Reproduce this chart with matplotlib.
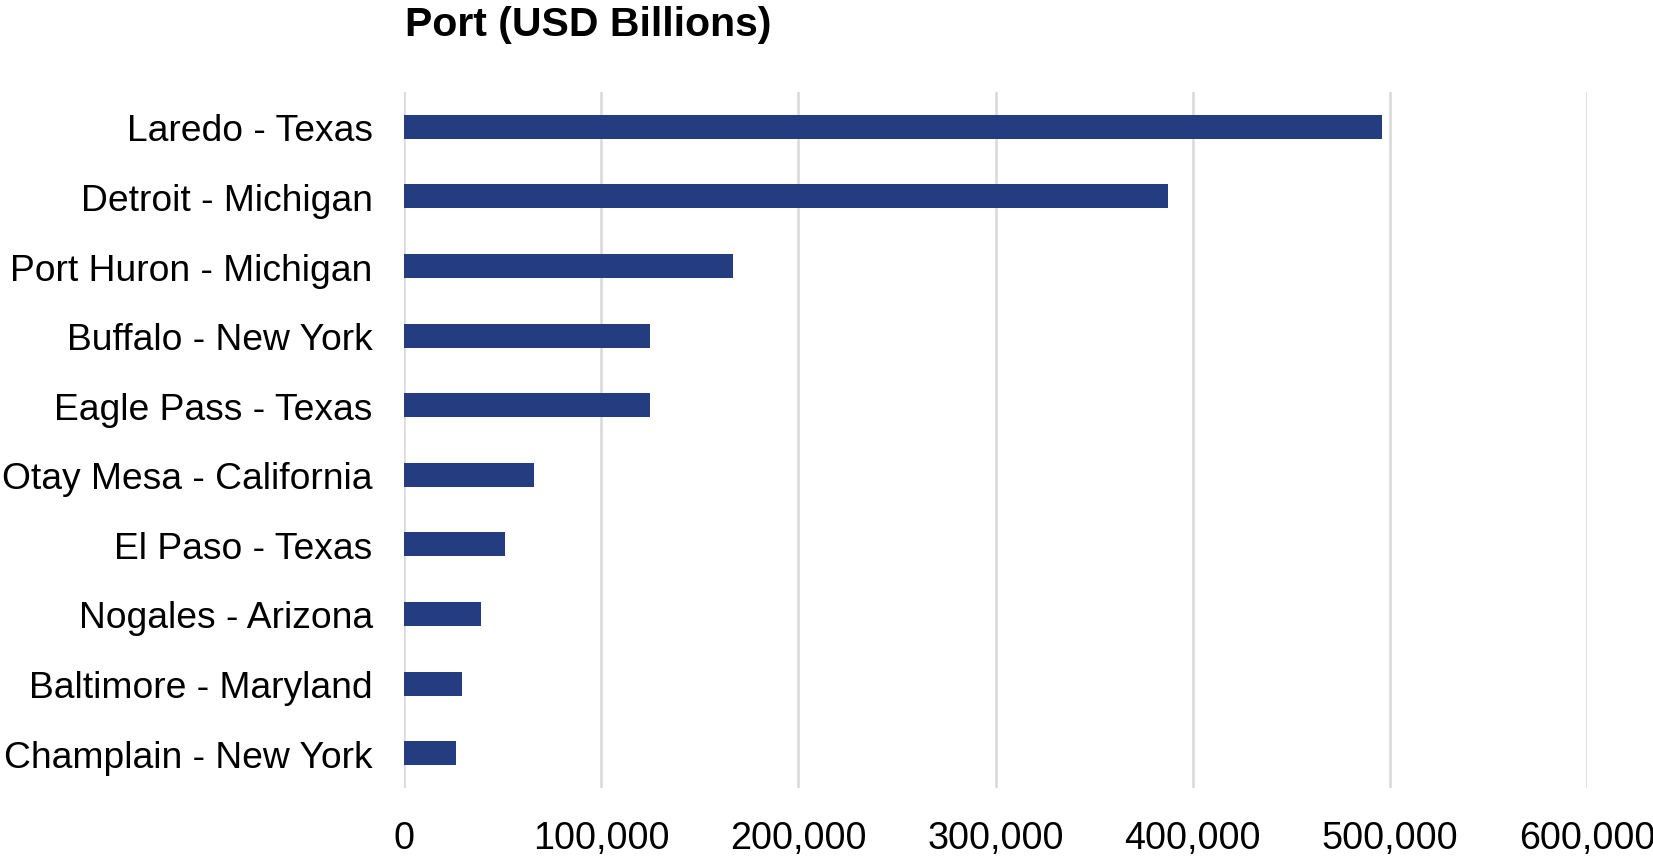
import matplotlib.pyplot as plt
from matplotlib.ticker import FuncFormatter

ports = ["Laredo - Texas", "Detroit - Michigan", "Port Huron - Michigan",
         "Buffalo - New York", "Eagle Pass - Texas", "Otay Mesa - California",
         "El Paso - Texas", "Nogales - Arizona", "Baltimore - Maryland",
         "Champlain - New York"]
values = [495800, 387400, 167000, 124800, 124800, 65900, 51300, 39200, 29200, 26500]
x_ticks = [0, 100000, 200000, 300000, 400000, 500000, 600000]

plt.rcParams['font.family'] = ['Liberation Sans', 'DejaVu Sans']

fig = plt.figure(figsize=(16.53, 8.62), dpi=100)
ax = fig.add_axes([0.2444, 0.0847, 0.7157, 0.8074])

pos = list(range(len(ports)))
ax.barh(pos, values, height=0.345, color="#243C80", zorder=3)

ax.set_ylim(len(ports) - 0.5, -0.5)
ax.set_yticks(pos)
ax.set_yticklabels(ports, fontsize=26.8)
ax.set_xlim(0, 600000)
ax.set_xticks(x_ticks)
ax.xaxis.set_major_formatter(FuncFormatter(lambda v, p: "{:,.0f}".format(v)))
ax.tick_params(axis="x", labelsize=27.2, length=0, pad=23)
ax.tick_params(axis="y", length=0, pad=22.5)

ax.grid(axis="x", color="#D9D9D9", linewidth=1.8, zorder=0)
for s in ax.spines.values():
    s.set_visible(False)

fig.text(0.245, 0.958, "Port (USD Billions)", fontsize=29.5, fontweight="bold",
         ha="left", va="baseline")

fig.savefig("out.png", dpi=100)
